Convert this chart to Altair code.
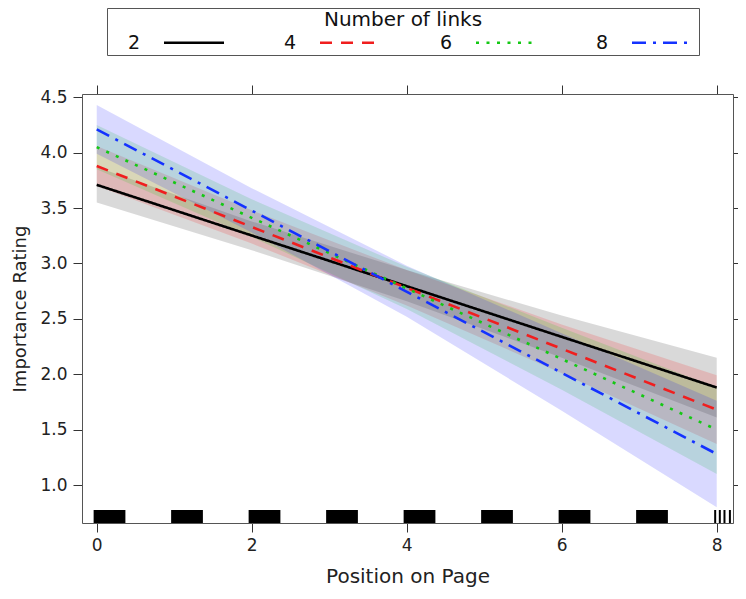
import altair as alt
import pandas as pd

# ---- data ----
links = ["2", "4", "6", "8"]
line_x = [0, 8]
fit_at_0 = [3.71, 3.88, 4.05, 4.21]
fit_at_8 = [1.88, 1.68, 1.50, 1.28]

band_x = [0, 2, 4, 6, 8]
lower_2 = [3.55, 3.12, 2.66, 2.15, 1.61]
upper_2 = [3.87, 3.38, 2.94, 2.53, 2.15]
lower_4 = [3.70, 3.18, 2.62, 2.01, 1.37]
upper_4 = [4.06, 3.48, 2.94, 2.45, 1.99]
lower_6 = [3.85, 3.24, 2.59, 1.86, 1.10]
upper_6 = [4.25, 3.58, 2.97, 2.42, 1.88]
lower_8 = [3.99, 3.28, 2.52, 1.67, 0.80]
upper_8 = [4.43, 3.68, 2.98, 2.37, 1.76]

rug_start = [-0.04, 0.96, 1.96, 2.96, 3.96, 4.96, 5.96, 6.96]
rug_end = [0.37, 1.37, 2.37, 3.37, 4.37, 5.37, 6.37, 7.37]
rug_ticks = [7.98, 8.04, 8.10, 8.17]

x_ticks = [0, 2, 4, 6, 8]
y_ticks = [1.0, 1.5, 2.0, 2.5, 3.0, 3.5, 4.0, 4.5]

line_colors = ["#000000", "#F01E1E", "#14C814", "#1432FF"]
band_colors = ["#000000", "#FF0000", "#00CD00", "#0000FF"]
dashes = [[1, 0], [12, 9], [3, 7.5], [14, 7, 3, 7]]

# ---- tables ----
line_df = pd.DataFrame(
    [{"links": l, "x": line_x[0], "fit": a} for l, a in zip(links, fit_at_0)]
    + [{"links": l, "x": line_x[1], "fit": b} for l, b in zip(links, fit_at_8)]
)
lows = [lower_2, lower_4, lower_6, lower_8]
ups = [upper_2, upper_4, upper_6, upper_8]
band_df = pd.DataFrame(
    [
        {"band": l, "x": x, "lower": lo, "upper": up}
        for l, lo_list, up_list in zip(links, lows, ups)
        for x, lo, up in zip(band_x, lo_list, up_list)
    ]
)
rug_df = pd.DataFrame({"start": rug_start, "end": rug_end})
tick_df = pd.DataFrame({"x": rug_ticks})

W, H = 651, 429
FONT = "DejaVu Sans"
xs = alt.Scale(domain=[-0.19, 8.21], nice=False, zero=False)
ys = alt.Scale(domain=[0.657, 4.53], nice=False, zero=False)

common_axis = dict(
    grid=False,
    domainColor="#555555",
    tickColor="#333333",
    tickSize=9,
    labelFont=FONT,
    labelFontSize=17,
    labelColor="#222222",
    titleFont=FONT,
    titleFontWeight="normal",
    titleColor="#222222",
)

band = alt.Chart(band_df).mark_area(opacity=0.15).encode(
    x=alt.X("x:Q", scale=xs,
            axis=alt.Axis(orient="top", labels=False, title=None, values=x_ticks, **common_axis)),
    y=alt.Y("lower:Q", scale=ys,
            axis=alt.Axis(orient="right", labels=False, title=None, values=y_ticks, **common_axis)),
    y2="upper:Q",
    color=alt.Color("band:N", scale=alt.Scale(domain=links, range=band_colors), legend=None),
)

# key line drawn to the right of its label (path offset to the right of the symbol centre)
legend = alt.Legend(
    title="Number of links",
    orient="none",
    legendX=25,
    legendY=-86,
    direction="horizontal",
    columns=4,
    symbolType="M22.75,0H52.75",
    symbolSize=16,
    symbolStrokeWidth=2.4,
    symbolOffset=0,
    labelAlign="left",
    labelOffset=0,
    columnPadding=36,
    padding=2,
    strokeColor="#555555",
    titleAnchor="middle",
    titleFont=FONT,
    titleFontSize=20,
    titleFontWeight="normal",
    titleColor="#111111",
    titlePadding=3,
    labelFont=FONT,
    labelFontSize=19,
    labelColor="#111111",
)

line = alt.Chart(line_df).mark_line(strokeWidth=2.6).encode(
    x=alt.X("x:Q", scale=xs,
            axis=alt.Axis(orient="bottom", values=x_ticks, title="Position on Page",
                          labelPadding=5, titlePadding=13, titleFontSize=20, **common_axis)),
    y=alt.Y("fit:Q", scale=ys,
            axis=alt.Axis(orient="left", values=y_ticks, format=".1f", title="Importance Rating",
                          labelPadding=6, titlePadding=10, titleFontSize=18, **common_axis)),
    stroke=alt.Stroke("links:N", scale=alt.Scale(domain=links, range=line_colors), legend=legend),
    strokeDash=alt.StrokeDash("links:N", scale=alt.Scale(domain=links, range=dashes), legend=legend),
)

rug_blocks = alt.Chart(rug_df).mark_rect(color="black").encode(
    x=alt.X("start:Q", scale=xs, axis=None),
    x2="end:Q",
    y=alt.value(H - 13),
    y2=alt.value(H),
)

rug_lines = alt.Chart(tick_df).mark_rule(color="black", strokeWidth=2).encode(
    x=alt.X("x:Q", scale=xs, axis=None),
    y=alt.value(H - 13),
    y2=alt.value(H),
)

chart = (
    alt.layer(band, line, rug_blocks, rug_lines)
    .resolve_axis(x="independent", y="independent")
    .resolve_scale(color="independent")
    .properties(
        width=W,
        height=H,
        autosize="none",
        padding={"left": 74, "top": 86, "right": 5, "bottom": 68},
    )
    .configure_view(stroke=None)
    .configure(background="white")
)

chart.save("out.html", embed_options={"renderer": "svg", "actions": False})
